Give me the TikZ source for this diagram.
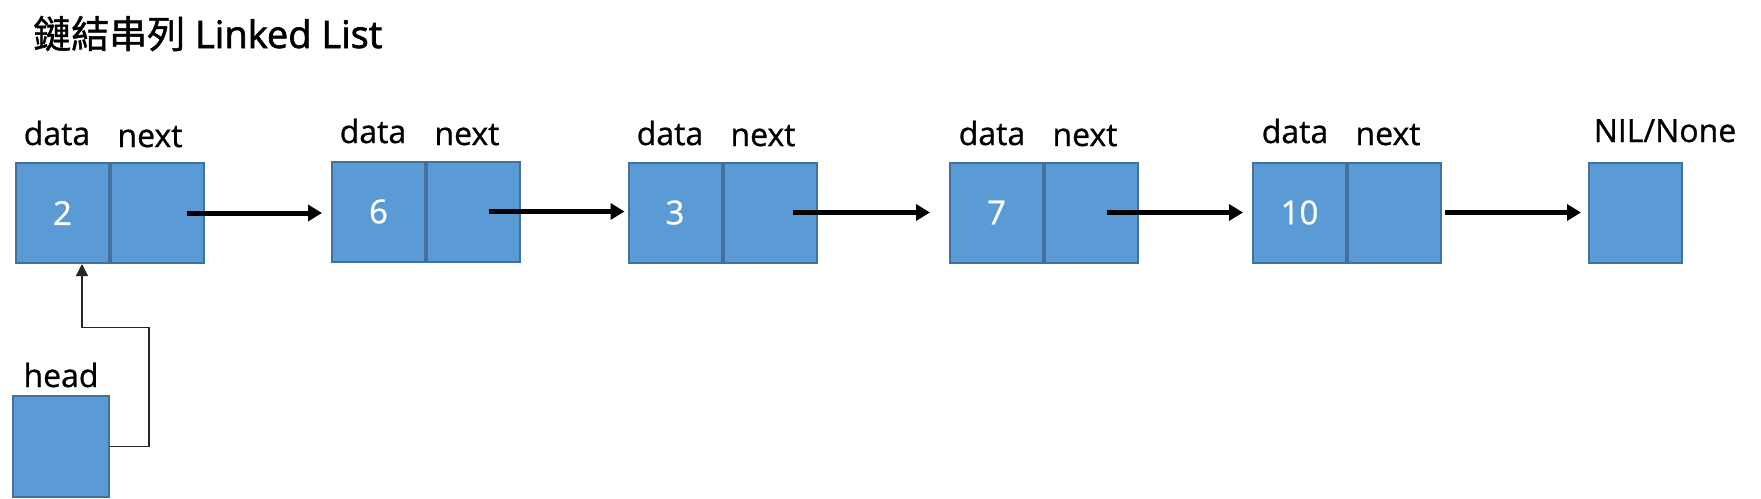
\documentclass[tikz,border=0pt]{standalone}
\usepackage{fontspec}
\setmainfont{Open Sans}
\newfontfamily\lblfont[FakeBold=0.8]{Open Sans}
\newfontfamily\titlefont[FakeBold=1.8]{Open Sans}
\newfontfamily\cjkfont[FakeBold=1.2]{Noto Sans CJK TC}
\usetikzlibrary{arrows.meta}
\definecolor{cellfill}{HTML}{5B9BD5}
\definecolor{celldraw}{HTML}{41719C}
\tikzset{
  cell/.style={draw=celldraw, fill=cellfill, line width=2pt, minimum width=93pt,
    minimum height=100pt, inner sep=0pt, text=white,
    font=\lblfont\fontsize{33pt}{38pt}\selectfont},
  lbl/.style={anchor=base, inner sep=0pt, font=\lblfont\fontsize{32pt}{38pt}\selectfont},
  link/.style={line width=5pt, -{Triangle[length=14pt,width=16pt]}},
  headlink/.style={line width=1.3pt, draw=black!85, -{Triangle[length=12pt,width=12pt]}},
}
\begin{document}
\begin{tikzpicture}[x=1pt,y=-1pt]
\useasboundingbox (0,0) rectangle (1761,498);
% title
\node[anchor=base west, inner sep=0pt, font=\titlefont\fontsize{38pt}{44pt}\selectfont] (title) at (33,48) {{\cjkfont 鏈結串列} Linked List};
% list nodes
\node[cell] (d1) at (62.5,213) {2};
\node[cell, anchor=west] (n1) at (d1.east) {};
\node[cell] (d2) at (378.5,211.5) {6};
\node[cell, anchor=west] (n2) at (d2.east) {};
\node[cell] (d3) at (675,212.5) {3};
\node[cell, anchor=west] (n3) at (d3.east) {};
\node[cell] (d4) at (996.5,212.5) {7};
\node[cell, anchor=west] (n4) at (d4.east) {};
\node[cell] (d5) at (1299.5,212.5) {10};
\node[cell, anchor=west] (n5) at (d5.east) {};
\node[cell] (nil) at (1635.5,212.5) {};
\node[cell, minimum width=96pt, minimum height=101pt] (head) at (61,446.5) {};
% labels
\node[lbl] (data1) at (57,145) {data};
\node[lbl] (next1) at (150,147) {next};
\node[lbl] (data2) at (373,143) {data};
\node[lbl] (next2) at (467,145) {next};
\node[lbl] (data3) at (670,145) {data};
\node[lbl] (next3) at (763,146) {next};
\node[lbl] (data4) at (992,145) {data};
\node[lbl] (next4) at (1085,146) {next};
\node[lbl] (data5) at (1295,143) {data};
\node[lbl] (next5) at (1388,145) {next};
\node[lbl] (nillbl) at (1665,142) {NIL/None};
\node[lbl] (headlbl) at (61,387) {head};
% links
\draw[link] ([xshift=29pt]n1.center) -- ([xshift=-9pt]d2.west |- n1.center);
\draw[link] ([xshift=15pt]n2.center) -- ([xshift=-3pt]d3.west |- n2.center);
\draw[link] ([xshift=23pt]n3.center) -- ([xshift=-19pt]d4.west |- n3.center);
\draw[link] ([xshift=15pt]n4.center) -- ([xshift=-9pt]d5.west |- n4.center);
\draw[link] ([xshift=3pt]n5.east) -- ([xshift=-7pt]nil.west |- n5.center);
% head pointer
\draw[headlink] (head.east) -| ++(39,-119) -| ([xshift=19.5pt]d1.south);
\end{tikzpicture}
\end{document}
